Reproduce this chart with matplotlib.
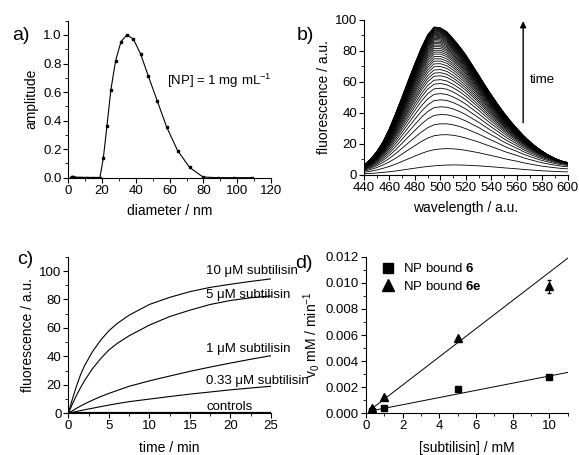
import matplotlib
matplotlib.use("Agg")
import matplotlib.pyplot as plt
import numpy as np
from matplotlib.ticker import MultipleLocator

plt.rcParams['font.family'] = ['Liberation Sans', 'DejaVu Sans']
plt.rcParams['mathtext.fontset'] = 'custom'
plt.rcParams['mathtext.rm'] = 'Liberation Sans'
plt.rcParams['mathtext.it'] = 'Liberation Sans:italic'
plt.rcParams['mathtext.bf'] = 'Liberation Sans:bold'

# a) size distribution
diam = [1.38, 1.53, 1.69, 1.86, 2.06, 2.28, 2.52, 2.78, 3.08, 3.4, 3.75, 4.15,
        4.6, 5.07, 5.6, 6.2, 6.85, 7.57, 8.37, 9.25, 10.2, 11.3, 12.5, 13.8,
        15.3, 16.9, 18.7, 20.7, 22.9, 25.2, 28.0, 31.2, 34.7, 38.5, 42.8,
        47.3, 52.7, 58.2, 64.7, 71.8, 79.7, 88.4, 98.0, 108.5]
amplitude = [0, 0, 0, 0, 0.006, 0.006, 0.005, 0, 0, 0, 0, 0,
             0, 0, 0, 0, 0, 0, 0, 0, 0, 0, 0, 0,
             0, 0, 0, 0.135, 0.365, 0.616, 0.82, 0.953, 1.0, 0.972, 0.867,
             0.714, 0.537, 0.356, 0.19, 0.072, 0.005, 0, 0, 0]

# b) emission spectra over time
wavelength = [440, 445, 450, 455, 460, 465, 470, 475, 480, 485, 490, 495, 500,
              505, 510, 515, 520, 525, 530, 535, 540, 545, 550, 555, 560, 565,
              570, 575, 580, 585, 590, 595, 600]
spec_last = [6.4, 10, 15, 21.5, 30, 40, 50.6, 61.5, 72, 82, 90.5, 95.5, 95,
             92.5, 88, 83, 77.5, 71, 64.6, 58, 51.7, 45.7, 40, 34.8, 30, 25.6,
             21.6, 18.2, 15.2, 12.6, 10.3, 8.6, 7.3]
spec_first = [0.8, 1.0, 1.3, 1.7, 2.1, 2.6, 3.2, 3.8, 4.4, 5.0, 5.5, 5.9, 6.2,
              6.4, 6.5, 6.45, 6.3, 6.1, 5.9, 5.6, 5.3, 5.0, 4.6, 4.3, 4.0, 3.6,
              3.3, 3.0, 2.7, 2.5, 2.3, 2.1, 2.0]
peak_heights = [6.5, 17, 26, 33, 39, 44, 48.5, 52.5, 56, 59, 61.5, 64, 66, 68,
                70, 71.8, 73.5, 75, 76.5, 78, 79.3, 80.5, 81.7, 82.8, 83.8,
                84.8, 85.7, 86.6, 87.4, 88.2, 88.9, 89.6, 90.2, 90.8, 91.4,
                91.9, 92.4, 92.9, 93.3, 93.7, 94.1, 94.5, 94.9, 95.2, 95.5]

# c) kinetics
t_min = [0, 0.5, 1, 1.5, 2, 3, 4, 5, 6, 7.5, 10, 12.5, 15, 17.5, 20, 22.5, 25]
fl_10uM = [0, 10, 19, 27, 33.5, 43.5, 51.5, 58, 63, 69, 76.5, 81.5, 85.5, 88.5, 90.7, 92.7, 94.5]
fl_5uM = [0, 6.5, 12.5, 18, 23, 31.5, 38.5, 44.5, 49, 54.5, 62, 68, 72.5, 76.5, 79.3, 81.2, 82.5]
fl_1uM = [0, 1.8, 3.5, 5.1, 6.6, 9.3, 11.8, 14, 16, 19, 22.8, 26.2, 29.5, 32.5, 35.3, 38, 40.5]
fl_033uM = [0, 0.7, 1.3, 1.9, 2.5, 3.6, 4.7, 5.8, 6.8, 8.2, 10, 11.8, 13.5, 15, 16.5, 17.8, 19]
fl_ctrl = [0, 0.1, 0.2, 0.2, 0.3, 0.3, 0.4, 0.4, 0.4, 0.5, 0.5, 0.5, 0.5, 0.5, 0.5, 0.5, 0.5]
curve_labels = ["10 μM subtilisin", "5 μM subtilisin", "1 μM subtilisin",
                "0.33 μM subtilisin", "controls"]
label_y = [100, 83, 45, 23, 4.6]

# d) initial rates
subtilisin = [0.33, 1, 5, 10]
v0_6 = [0.00018, 0.00043, 0.00184, 0.0028]
v0_6e = [0.00038, 0.00127, 0.00575, 0.00975]
v0_6e_err = [0, 0, 0, 0.0005]
fit_6 = (0.000275, 0.00011)    # slope, intercept
fit_6e = (0.00108, 0.00001)
fit_x = [0.3, 11]


def style(ax):
    for s in ('top', 'right'):
        ax.spines[s].set_visible(False)
    for s in ('left', 'bottom'):
        ax.spines[s].set_linewidth(0.8)
    ax.tick_params(which='major', direction='out', length=3.5, width=0.8,
                   labelsize=9.5, pad=1.5)
    ax.tick_params(which='minor', direction='out', length=2, width=0.6)


fig = plt.figure(figsize=(5.79, 4.55), dpi=100)
ax_a = fig.add_axes([0.118, 0.6095, 0.350, 0.345])
ax_b = fig.add_axes([0.6287, 0.6154, 0.3518, 0.3407])
ax_c = fig.add_axes([0.118, 0.0916, 0.350, 0.344])
ax_d = fig.add_axes([0.632, 0.0916, 0.3484, 0.344])

# --- a ---
ax_a.plot(diam, amplitude, color='black', lw=0.8, marker='s', ms=1.7)
ax_a.set_xlim(0, 120)
ax_a.set_ylim(0, 1.1)
ax_a.xaxis.set_major_locator(MultipleLocator(20))
ax_a.xaxis.set_minor_locator(MultipleLocator(10))
ax_a.yaxis.set_major_locator(MultipleLocator(0.2))
ax_a.yaxis.set_minor_locator(MultipleLocator(0.1))
ax_a.yaxis.set_major_formatter(matplotlib.ticker.FormatStrFormatter('%.1f'))
ax_a.set_xlabel("diameter / nm", fontsize=10, labelpad=5)
ax_a.set_ylabel("amplitude", fontsize=10, labelpad=3)
ax_a.text(58.5, 0.68, "[NP] = 1 mg mL$^{-1}$", fontsize=9.5, va='center')
style(ax_a)

# --- b ---
last = np.array(spec_last) / max(spec_last)
first = np.array(spec_first) / max(spec_first)
lo, hi = peak_heights[0], peak_heights[-1]
for h in peak_heights:
    w = ((h - lo) / (hi - lo)) ** 0.5
    shape = (1 - w) * first + w * last
    ax_b.plot(wavelength, h * shape / shape.max(), color='black', lw=0.6)
ax_b.set_xlim(440, 600)
ax_b.set_ylim(0, 100)
ax_b.xaxis.set_major_locator(MultipleLocator(20))
ax_b.xaxis.set_minor_locator(MultipleLocator(10))
ax_b.yaxis.set_major_locator(MultipleLocator(20))
ax_b.yaxis.set_minor_locator(MultipleLocator(10))
ax_b.set_xlabel("wavelength / a.u.", fontsize=10, labelpad=5)
ax_b.set_ylabel("fluorescence / a.u.", fontsize=10, labelpad=3)
ax_b.annotate("", xy=(565, 101), xytext=(565, 32),
              arrowprops=dict(arrowstyle='-|>', color='black', lw=1.0,
                              mutation_scale=9), annotation_clip=False)
ax_b.text(570, 61, "time", fontsize=9.5, va='center')
style(ax_b)

# --- c ---
for ys in (fl_10uM, fl_5uM, fl_1uM, fl_033uM, fl_ctrl):
    ax_c.plot(t_min, ys, color='black', lw=0.8)
ax_c.plot([0, 25], [0.2, 0.2], color='black', lw=1.6)
for lab, yl in zip(curve_labels, label_y):
    ax_c.text(17.0, yl, lab, fontsize=9.5, va='center', clip_on=False)
ax_c.set_xlim(0, 25)
ax_c.set_ylim(0, 110)
ax_c.xaxis.set_major_locator(MultipleLocator(5))
ax_c.xaxis.set_minor_locator(MultipleLocator(2.5))
ax_c.yaxis.set_major_locator(MultipleLocator(20))
ax_c.yaxis.set_minor_locator(MultipleLocator(10))
ax_c.set_xlabel("time / min", fontsize=10, labelpad=6)
ax_c.set_ylabel("fluorescence / a.u.", fontsize=10, labelpad=3)
style(ax_c)

# --- d ---
fx = np.array(fit_x)
ax_d.plot(fx, fit_6[0] * fx + fit_6[1], color='black', lw=0.7)
ax_d.plot(fx, fit_6e[0] * fx + fit_6e[1], color='black', lw=0.7)
tri = ax_d.errorbar(subtilisin, v0_6e, yerr=v0_6e_err, fmt='^', color='black',
                    ms=5.5, elinewidth=0.7, capsize=1.5)
sq, = ax_d.plot(subtilisin, v0_6, 's', color='black', ms=5)
ax_d.legend([sq, tri[0]], [r"NP bound $\mathbf{6}$", r"NP bound $\mathbf{6e}$"],
            loc='upper left', bbox_to_anchor=(0.02, 1.04),
            frameon=False, fontsize=9.5, handlelength=1.0, handletextpad=0.6,
            markerscale=1.5, labelspacing=0.35)
ax_d.set_xlim(0, 11)
ax_d.set_ylim(0, 0.012)
ax_d.xaxis.set_major_locator(MultipleLocator(2))
ax_d.xaxis.set_minor_locator(MultipleLocator(1))
ax_d.yaxis.set_major_locator(MultipleLocator(0.002))
ax_d.yaxis.set_minor_locator(MultipleLocator(0.001))
ax_d.yaxis.set_major_formatter(matplotlib.ticker.FormatStrFormatter('%.3f'))
ax_d.set_xlabel("[subtilisin] / mM", fontsize=10, labelpad=6)
ax_d.set_ylabel("v$_0$ mM / min$^{-1}$", fontsize=10, labelpad=3)
style(ax_d)

# panel letters
for lab, x, y in (("a)", 12, 36), ("b)", 297, 35), ("c)", 17, 260), ("d)", 295, 263)):
    fig.text(x / 579, 1 - y / 455, lab, fontsize=14, va='center', ha='left')

fig.savefig("out.png", dpi=100)
